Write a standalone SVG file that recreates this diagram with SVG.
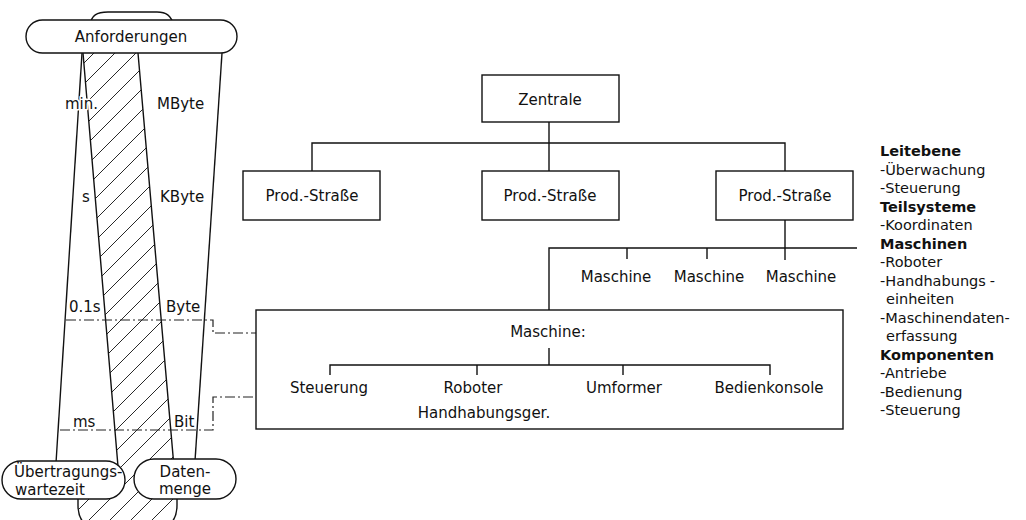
<svg xmlns="http://www.w3.org/2000/svg" width="1026" height="520" viewBox="0 0 1026 520">
<style>
text{font-family:"DejaVu Sans","Liberation Sans",sans-serif;font-size:15px;fill:#111}
.b{font-weight:bold}
.c{text-anchor:middle}
.lg{font-size:14.5px}
.ln{stroke:#111;stroke-width:1.4;fill:none}
.box{stroke:#111;stroke-width:1.4;fill:#fff}
.dd{stroke:#222;stroke-width:1.2;fill:none;stroke-dasharray:10 3 2 3}
.halo{stroke:#fff;stroke-width:3;paint-order:stroke;stroke-linejoin:round}
</style>
<defs>
<pattern id="hatch" patternUnits="userSpaceOnUse" width="21" height="21">
<path d="M0,21 L21,0 M-2,2 L2,-2 M19,23 L23,19" stroke="#111" stroke-width="0.9"/>
</pattern>
</defs>
<rect width="1026" height="520" fill="#fff"/>

<g id="band">
<path d="M83,53 L138,53 L176,490 L177,490 L177,505 C177,522 168,530 150,530 L105,530 C87,530 78,522 78,505 L78,490 L120,490 Z" fill="url(#hatch)"/>
<path class="ln" d="M83,53 L120,490 M138,53 L176,490 M78,490 L78,505 C78,522 87,530 105,530 L150,530 C168,530 177,522 177,505 L177,490"/>
<path class="box" d="M90,26 C91,15 97,12 108,12 L157,12 C166,12 171,15 174,26"/>
</g>

<g id="wedges">
<line class="ln" x1="82" y1="53" x2="56" y2="463"/>
<line class="ln" x1="222" y1="53" x2="195" y2="461"/>
</g>

<g id="scale-labels">
<text class="halo" x="65" y="109">min.</text>
<text class="halo" x="157" y="109">MByte</text>
<text class="halo" x="82" y="202">s</text>
<text class="halo" x="160" y="202">KByte</text>
<text class="halo" x="69" y="312">0.1s</text>
<text class="halo" x="166" y="312">Byte</text>
<text class="halo" x="73" y="427">ms</text>
<text class="halo" x="174" y="427">Bit</text>
</g>

<g id="anforderungen">
<rect class="box" x="26" y="20" width="211" height="33" rx="16.5"/>
<text class="c" x="131" y="42">Anforderungen</text>
</g>

<g id="uebertragungswartezeit">
<rect class="box" x="2" y="461" width="123" height="38" rx="19"/>
<text x="14" y="477">Übertragungs-</text>
<text x="15" y="495">wartezeit</text>
</g>

<g id="datenmenge">
<rect class="box" x="134" y="459" width="102" height="40" rx="20"/>
<text class="c" x="185" y="477">Daten-</text>
<text class="c" x="185" y="494">menge</text>
</g>

<g id="connectors">
<path class="ln" d="M549,122 V171 M312,171 V143 H785 V171"/>
<path class="ln" d="M785,220 V260 M549,310 V248 H857 M627,248 V259 M707,248 V259"/>
<path class="ln" d="M549,348 V365 M330,375 V365 H770 V375 M477,365 V375 M623,365 V375"/>
<path class="dd" d="M66,320 H213 V333 H256"/>
<path class="dd" d="M60,430 H213 V397 H256"/>
</g>

<g id="zentrale">
<rect class="box" x="482" y="75" width="137" height="47"/>
<text class="c" x="550" y="105">Zentrale</text>
</g>
<g id="prod1">
<rect class="box" x="243" y="171" width="137" height="49"/>
<text class="c" x="312" y="201">Prod.-Straße</text>
</g>
<g id="prod2">
<rect class="box" x="482" y="171" width="137" height="49"/>
<text class="c" x="550" y="201">Prod.-Straße</text>
</g>
<g id="prod3">
<rect class="box" x="716" y="171" width="137" height="49"/>
<text class="c" x="785" y="201">Prod.-Straße</text>
</g>

<g id="maschine1"><text class="c" x="616" y="282">Maschine</text></g>
<g id="maschine2"><text class="c" x="709" y="282">Maschine</text></g>
<g id="maschine3"><text class="c" x="801" y="282">Maschine</text></g>

<g id="maschine-detail">
<rect class="ln" x="256" y="310" width="587" height="119"/>
<text class="c" x="548" y="337">Maschine:</text>
<text class="c" x="329" y="393">Steuerung</text>
<text class="c" x="473" y="393">Roboter</text>
<text class="c" x="484" y="418">Handhabungsger.</text>
<text class="c" x="624" y="393">Umformer</text>
<text class="c" x="769" y="393">Bedienkonsole</text>
</g>

<g id="legend" class="lg">
<text class="b lg" x="880" y="156">Leitebene</text>
<text class="lg" x="880" y="174.5">-Überwachung</text>
<text class="lg" x="880" y="193">-Steuerung</text>
<text class="b lg" x="880" y="211.5">Teilsysteme</text>
<text class="lg" x="880" y="230">-Koordinaten</text>
<text class="b lg" x="880" y="248.5">Maschinen</text>
<text class="lg" x="880" y="267">-Roboter</text>
<text class="lg" x="880" y="285.5">-Handhabungs<tspan dx="4">-</tspan></text>
<text class="lg" x="886" y="304">einheiten</text>
<text class="lg" x="880" y="322.5">-Maschinendaten-</text>
<text class="lg" x="886" y="341">erfassung</text>
<text class="b lg" x="880" y="359.5">Komponenten</text>
<text class="lg" x="880" y="378">-Antriebe</text>
<text class="lg" x="880" y="396.5">-Bedienung</text>
<text class="lg" x="880" y="415">-Steuerung</text>
</g>
</svg>
